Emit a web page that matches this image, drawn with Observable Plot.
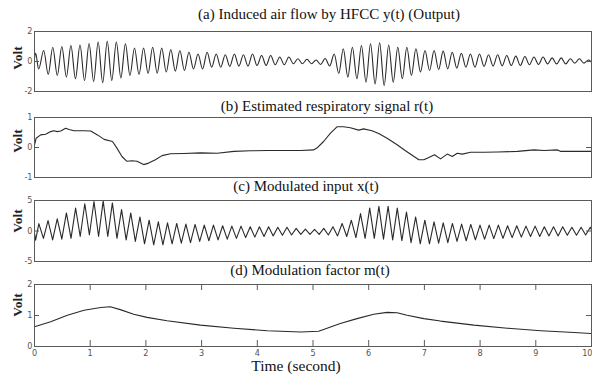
<!DOCTYPE html>
<html><head><meta charset="utf-8">
<script src="https://cdn.jsdelivr.net/npm/d3@7"></script>
<script src="https://cdn.jsdelivr.net/npm/@observablehq/plot@0.6"></script>
<style>
html,body{margin:0;padding:0;background:#fff;}
#chart{position:relative;width:592px;height:377px;overflow:hidden;background:#fff;}
#chart svg{position:absolute;left:0;}
</style></head><body><div id="chart"></div>
<script>
// ---------- data ----------
const titles = ["(a) Induced air flow by HFCC y(t) (Output)", "(b) Estimated respiratory signal r(t)", "(c) Modulated input x(t)", "(d) Modulation factor m(t)"];
const yLabel = "Volt";
const xLabel = "Time (second)";
const xTicks = [0,1,2,3,4,5,6,7,8,9,10];
const aTicks = [-2,0,2];
const bTicks = [-1,0,1];
const cTicks = [-5,0,5];
const dTicks = [0,1,2];

// (a) y(t): lead-in, then alternating peaks / troughs (one cycle every aPeriod seconds)
const aLeadT = [0, 0.02, 0.075];
const aLeadV = [0.2, 0.55, -0.5];
const aFirstPeak = 0.165, aPeriod = 0.163;
const aPeaks = [0.73,0.95,1.0,1.07,1.1,1.2,1.3,1.35,1.3,1.18,0.9,0.9,0.95,0.9,0.8,0.73,0.62,0.5,0.62,0.5,0.45,0.5,0.45,0.5,0.4,0.4,0.3,0.3,0.18,
  0.15,0.1,0.2,
  0.5,0.85,0.95,1.07,1.18,1.25,1.1,0.95,0.95,0.85,0.73,0.73,0.69,0.62,0.55,0.5,0.5,0.45,0.45,0.4,0.36,0.33,0.3,0.3,0.24,0.24,0.18,0.18,0.1];
const aTroughs = [-0.87,-0.93,-1.04,-1.15,-1.27,-1.33,-1.42,-1.27,-1.1,-0.93,-0.87,-0.8,-0.78,-0.7,-0.64,-0.6,-0.5,-0.5,-0.38,-0.38,-0.33,-0.31,-0.31,-0.27,-0.27,-0.22,-0.22,-0.15,
  -0.15,-0.15,-0.2,-0.3,
  -0.8,-1.04,-1.15,-1.38,-1.5,-1.6,-1.38,-1.15,-0.93,-0.7,-0.6,-0.53,-0.49,-0.44,-0.38,-0.38,-0.33,-0.31,-0.29,-0.27,-0.27,-0.22,-0.2,-0.16,-0.16,-0.16,-0.11,-0.11];
const aEnd = [10, -0.05];

// (b) r(t)
const bTime = [0,0.03,0.11,0.2,0.29,0.35,0.41,0.47,0.56,0.62,0.71,0.89,1.01,1.13,1.25,1.4,1.48,1.57,1.66,1.75,1.84,1.96,2.05,2.17,2.29,2.44,2.68,2.98,3.28,3.58,3.88,4.18,4.48,4.78,5.01,5.07,5.19,5.31,5.43,5.55,5.67,5.82,5.91,6.06,6.18,6.33,6.51,6.66,6.78,6.9,6.99,7.08,7.18,7.29,7.41,7.5,7.59,7.68,7.83,8.07,8.31,8.67,8.97,9.15,9.39,9.45,10];
const bValue = [0.09,0.31,0.42,0.44,0.53,0.56,0.53,0.55,0.64,0.6,0.56,0.56,0.55,0.42,0.27,0.2,-0.02,-0.3,-0.46,-0.44,-0.46,-0.57,-0.52,-0.41,-0.27,-0.21,-0.2,-0.18,-0.19,-0.13,-0.11,-0.1,-0.1,-0.1,-0.08,-0.02,0.2,0.47,0.69,0.69,0.66,0.58,0.62,0.56,0.47,0.31,0.09,-0.11,-0.26,-0.41,-0.41,-0.33,-0.24,-0.38,-0.22,-0.3,-0.19,-0.22,-0.16,-0.16,-0.15,-0.13,-0.08,-0.1,-0.08,-0.13,-0.13];

// (c) x(t)
const cLeadT = [0, 0.02];
const cLeadV = [-0.4, -1.5];
const cFirstPeak = 0.078, cPeriod = 0.165;
const cPeaks = [1.2,1.7,2.0,2.96,3.76,4.46,4.84,4.95,4.6,3.5,2.96,2.3,1.77,1.5,1.34,1.24,1.13,1.08,0.97,0.97,0.86,0.8,0.8,0.7,0.7,0.7,0.6,0.6,0.43,
  0.32,0.27,0.43,0.7,1.24,1.77,2.85,3.76,4.03,4.03,3.76,3.1,2.3,1.77,1.5,1.34,1.24,1.13,1.08,0.97,0.97,0.97,0.86,0.86,0.8,0.8,0.7,0.7,0.7,0.6,0.6,0.6];
const cTroughs = [-1.2,-1.45,-1.34,-1.2,-0.9,-0.65,-0.9,-0.9,-1.2,-1.45,-1.7,-2.1,-2.26,-2.26,-2.1,-2.0,-1.9,-1.7,-1.6,-1.45,-1.34,-1.2,-1.08,-1.0,-0.9,-0.8,-0.7,-0.65,-0.55,
  -0.55,-0.55,-0.65,-0.8,-0.9,-1.08,-1.2,-1.2,-1.34,-1.45,-1.6,-1.9,-2.1,-2.1,-2.0,-1.9,-1.7,-1.6,-1.45,-1.34,-1.24,-1.2,-1.08,-1.0,-0.9,-0.9,-0.8,-0.8,-0.7,-0.7,-0.65];
const cEnd = [10, 0.2];

// (d) m(t)
const dTime = [0,0.29,0.59,0.89,1.19,1.36,1.54,1.78,2.02,2.38,2.98,3.58,4.18,4.78,5.1,5.19,5.49,5.79,6.09,6.33,6.51,6.69,6.99,7.29,7.89,8.49,9.09,9.69,10];
const dValue = [0.64,0.8,1.01,1.17,1.26,1.28,1.19,1.04,0.94,0.83,0.69,0.59,0.51,0.47,0.49,0.55,0.74,0.9,1.04,1.1,1.09,1.01,0.9,0.82,0.69,0.59,0.51,0.45,0.42];

// ---------- tables ----------
function oscTable(leadT, leadV, firstPeak, period, peaks, troughs, end) {
  const rows = leadT.map((t, i) => ({t, v: leadV[i]}));
  peaks.forEach((p, k) => {
    rows.push({t: firstPeak + k * period, v: p});
    if (k < troughs.length) rows.push({t: firstPeak + (k + 0.5) * period, v: troughs[k]});
  });
  rows.push({t: end[0], v: end[1]});
  return rows;
}
const aData = oscTable(aLeadT, aLeadV, aFirstPeak, aPeriod, aPeaks, aTroughs, aEnd);
const bData = bTime.map((t, i) => ({t, v: bValue[i]}));
const cData = oscTable(cLeadT, cLeadV, cFirstPeak, cPeriod, cPeaks, cTroughs, cEnd);
const dData = dTime.map((t, i) => ({t, v: dValue[i]}));

// ---------- drawing ----------
const W = 592, ML = 34, MR = 1;
const innerW = W - ML - MR;
const tickFont = "'Liberation Sans Narrow','DejaVu Sans Condensed','Liberation Sans',sans-serif";
const chart = document.getElementById("chart");
const fmt = d => String(d);

function panel({data, ticks, top, innerH, bottom, showX, curve}) {
  const marks = [
    Plot.line(data, {x: "t", y: "v", stroke: "#2a2a2a", strokeWidth: 1.1, curve: curve || "linear", clip: true}),
    Plot.frame({stroke: "#5a5a5a", strokeWidth: 1}),
    Plot.axisY(ticks, {ticks, tickFormat: fmt, tickSize: 0, tickPadding: 2, fontSize: 9, fill: "#555", label: null}),
    Plot.tickY(ticks, {y: d => d, stroke: "#5a5a5a", insetRight: innerW - 5}),
    Plot.tickY(ticks, {y: d => d, stroke: "#5a5a5a", insetLeft: innerW - 5})
  ];
  if (showX) {
    const inner = xTicks.slice(0, -1), last = xTicks.slice(-1);
    marks.push(
      Plot.axisX(inner, {ticks: inner, tickFormat: fmt, tickSize: 0, tickPadding: 3, fontSize: 9, fill: "#555", label: null}),
      Plot.axisX(last, {ticks: last, tickFormat: fmt, tickSize: 0, tickPadding: 3, fontSize: 9, fill: "#555", label: null, textAnchor: "end", dx: 1}),
      Plot.tickX(xTicks, {x: d => d, stroke: "#5a5a5a", insetTop: innerH - 6}),
      Plot.tickX(xTicks, {x: d => d, stroke: "#5a5a5a", insetBottom: innerH - 6})
    );
  }
  const svg = Plot.plot({
    width: W, height: 1 + innerH + bottom,
    marginLeft: ML, marginRight: MR, marginTop: 1, marginBottom: bottom,
    x: showX ? {domain: [0, 10]} : {domain: [0, 10], axis: null},
    y: {domain: [ticks[0], ticks[ticks.length - 1]]},
    style: {background: "transparent", overflow: "visible", fontFamily: tickFont, fontSize: "9px"},
    marks
  });
  svg.style.top = top + "px";
  chart.appendChild(svg);
}

panel({data: aData, ticks: aTicks, top: 30, innerH: 60, bottom: 1, curve: "monotone-x"});
panel({data: bData, ticks: bTicks, top: 116, innerH: 60, bottom: 1});
panel({data: cData, ticks: cTicks, top: 199, innerH: 61, bottom: 1});
panel({data: dData, ticks: dTicks, top: 283, innerH: 62, bottom: 31, showX: true});

// ---------- text overlay ----------
const overlay = d3.select(chart).append("svg")
  .attr("width", W).attr("height", 377).style("top", "0px").style("pointer-events", "none");
const serif = "'Liberation Serif','DejaVu Serif',serif";
const titlePos = [[329, 19], [327, 111], [306, 191], [310, 275]];
titles.forEach((t, i) => {
  overlay.append("text").attr("x", titlePos[i][0]).attr("y", titlePos[i][1])
    .attr("text-anchor", "middle").attr("font-family", serif).attr("font-size", 15)
    .attr("fill", "#111").text(t);
});
const voltY = [58, 141, 221, 305];
voltY.forEach(y => {
  overlay.append("text").attr("transform", `translate(21.5,${y}) rotate(-90)`)
    .attr("text-anchor", "middle").attr("font-family", serif).attr("font-size", 13.5)
    .attr("font-weight", "bold").attr("fill", "#222").text(yLabel);
});
overlay.append("text").attr("x", 296).attr("y", 371).attr("text-anchor", "middle")
  .attr("font-family", serif).attr("font-size", 15.5).attr("fill", "#111").text(xLabel);
</script></body></html>
